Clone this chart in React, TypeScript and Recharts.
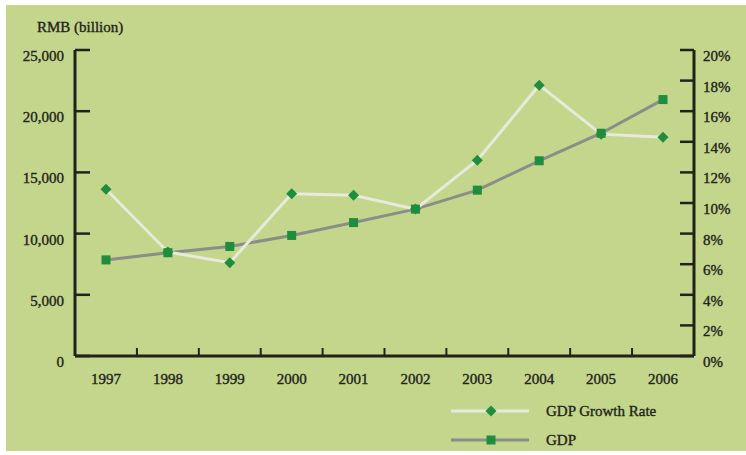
import { LineChart, Line, XAxis, YAxis, Legend } from "recharts";

// years on the category axis
const years = ["1997", "1998", "1999", "2000", "2001", "2002", "2003", "2004", "2005", "2006"];
// GDP, RMB billion
const gdpValues = [7850, 8440, 8950, 9850, 10900, 12000, 13550, 15950, 18200, 20950];
// GDP growth rate, %
const growthRates = [10.9, 6.8, 6.1, 10.6, 10.5, 9.6, 12.8, 17.7, 14.5, 14.3];

const gdpTicks = [0, 5000, 10000, 15000, 20000, 25000];
const rateTicks = [0, 2, 4, 6, 8, 10, 12, 14, 16, 18, 20];

const data = years.map((year, i) => ({ year, gdp: gdpValues[i], rate: growthRates[i] }));

const FONT = "'Liberation Serif', 'Times New Roman', serif";
const INK = "#22221c";
const BG = "#c3d68b";
const MARK = "#1f8d3e";
const GDP_LINE = "#8b8e88";
const RATE_LINE = "#e7eadc";
const HALF_STEP = 30.95;

// shared text style, a hair of stroke to match the heavier print
const txt = { fontSize: 15, fontFamily: FONT, fill: INK, stroke: INK, strokeWidth: 0.35 };

const Diamond = (props: any) => {
  const { cx, cy } = props;
  if (cx == null || cy == null) return null;
  const r = 5.5;
  return <polygon points={`${cx},${cy - r} ${cx + r},${cy} ${cx},${cy + r} ${cx - r},${cy}`} fill={MARK} />;
};

const Square = (props: any) => {
  const { cx, cy } = props;
  if (cx == null || cy == null) return null;
  return <rect x={cx - 4.5} y={cy - 4.5} width={9} height={9} fill={MARK} />;
};

const LeftTick = (props: any) => {
  const { x, y, payload } = props;
  return (
    <g>
      <line x1={x} x2={x + 15} y1={y} y2={y} stroke={INK} strokeWidth={2.5} />
      <text x={x - 11} y={y + 11} textAnchor="end" {...txt}>
        {Number(payload.value).toLocaleString("en-US")}
      </text>
    </g>
  );
};

const RightTick = (props: any) => {
  const { x, y, payload } = props;
  return (
    <g>
      <line x1={x - 14} x2={x} y1={y} y2={y} stroke={INK} strokeWidth={2.5} />
      <text x={x + 9} y={y + 11} textAnchor="start" {...txt}>
        {payload.value}%
      </text>
    </g>
  );
};

const BottomTick = (props: any) => {
  const { x, y, payload, index } = props;
  return (
    <g>
      {index > 0 && <line x1={x - HALF_STEP} x2={x - HALF_STEP} y1={y} y2={y - 8} stroke={INK} strokeWidth={2} />}
      <text x={x} y={y + 28} textAnchor="middle" {...txt}>
        {payload.value}
      </text>
    </g>
  );
};

const LegendBox = () => (
  <svg width={240} height={60}>
    <line x1={11} x2={89} y1={16} y2={16} stroke={RATE_LINE} strokeWidth={3} />
    <Diamond cx={51} cy={16} />
    <text x={106} y={21} {...txt}>GDP Growth Rate</text>
    <line x1={11} x2={89} y1={45} y2={45} stroke={GDP_LINE} strokeWidth={3} />
    <Square cx={51} cy={45} />
    <text x={106} y={50} {...txt}>GDP</text>
  </svg>
);

export default function App() {
  return (
    <div style={{ position: "relative", width: 746, height: 455, background: "#fff" }}>
      <style>{"body{margin:0}"}</style>
      <div style={{ position: "absolute", left: 6, top: 5, width: 740, height: 446, background: BG }} />
      <div style={{ position: "absolute", left: 0, top: 0 }}>
        <LineChart width={746} height={455} data={data} margin={{ top: 50, right: 0, bottom: 0, left: 0 }}>
          <text x={37} y={32} {...txt}>RMB (billion)</text>
          <XAxis
            dataKey="year"
            height={99}
            padding={{ left: 31, right: 31 }}
            axisLine={{ stroke: INK, strokeWidth: 3 }}
            tickLine={false}
            tickSize={0}
            tickMargin={0}
            interval={0}
            tick={<BottomTick />}
          />
          <YAxis
            yAxisId="gdp"
            orientation="left"
            width={75}
            domain={[0, 25000]}
            ticks={gdpTicks}
            interval={0}
            axisLine={{ stroke: INK, strokeWidth: 3 }}
            tickLine={false}
            tickSize={0}
            tickMargin={0}
            tick={<LeftTick />}
          />
          <YAxis
            yAxisId="rate"
            orientation="right"
            width={52}
            domain={[0, 20]}
            ticks={rateTicks}
            interval={0}
            axisLine={{ stroke: INK, strokeWidth: 3 }}
            tickLine={false}
            tickSize={0}
            tickMargin={0}
            tick={<RightTick />}
          />
          <Line
            yAxisId="gdp"
            dataKey="gdp"
            name="GDP"
            stroke={GDP_LINE}
            strokeWidth={3}
            dot={<Square />}
            activeDot={false}
            isAnimationActive={false}
          />
          <Line
            yAxisId="rate"
            dataKey="rate"
            name="GDP Growth Rate"
            stroke={RATE_LINE}
            strokeWidth={3}
            dot={<Diamond />}
            activeDot={false}
            isAnimationActive={false}
          />
          <Legend
            layout="vertical"
            align="center"
            verticalAlign="middle"
            content={<LegendBox />}
            wrapperStyle={{ position: "absolute", left: 440, top: 395, width: 240, height: 60 }}
          />
        </LineChart>
      </div>
    </div>
  );
}
